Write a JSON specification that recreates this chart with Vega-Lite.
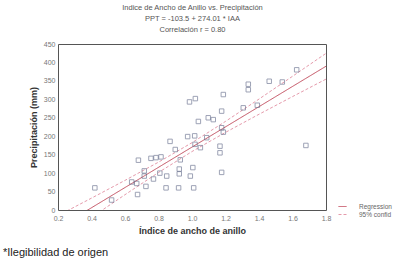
{
  "$schema": "https://vega.github.io/schema/vega-lite/v6.json",
  "width": 268,
  "height": 166,
  "autosize": {"type": "none"},
  "padding": {"left": 58, "top": 44, "right": 84, "bottom": 58},
  "background": "white",
  "config": {
    "view": {"stroke": "#555", "strokeWidth": 1},
    "font": "Liberation Sans",
    "axis": {"grid": false}
  },
  "title": {
    "text": "*Ilegibilidad de origen",
    "orient": "bottom",
    "anchor": "start",
    "frame": "group",
    "dx": -55,
    "offset": 12,
    "fontSize": 11,
    "fontWeight": "normal",
    "color": "#222",
    "font": "Liberation Sans"
  },
  "datasets": {
    "points": [
      {"iaa": 0.42, "ppt": 60}, {"iaa": 0.52, "ppt": 27}, {"iaa": 0.64, "ppt": 76},
      {"iaa": 0.67, "ppt": 72}, {"iaa": 0.675, "ppt": 42}, {"iaa": 0.68, "ppt": 135},
      {"iaa": 0.715, "ppt": 106}, {"iaa": 0.715, "ppt": 92}, {"iaa": 0.725, "ppt": 64},
      {"iaa": 0.77, "ppt": 84}, {"iaa": 0.755, "ppt": 140}, {"iaa": 0.785, "ppt": 142},
      {"iaa": 0.815, "ppt": 144}, {"iaa": 0.808, "ppt": 100}, {"iaa": 0.849, "ppt": 92},
      {"iaa": 0.845, "ppt": 60}, {"iaa": 0.869, "ppt": 186}, {"iaa": 0.9, "ppt": 164},
      {"iaa": 0.93, "ppt": 136}, {"iaa": 0.924, "ppt": 111}, {"iaa": 0.924, "ppt": 98},
      {"iaa": 0.92, "ppt": 60}, {"iaa": 0.99, "ppt": 92}, {"iaa": 1.005, "ppt": 115},
      {"iaa": 1.01, "ppt": 60}, {"iaa": 0.974, "ppt": 199}, {"iaa": 1.016, "ppt": 201},
      {"iaa": 0.985, "ppt": 293}, {"iaa": 1.02, "ppt": 302}, {"iaa": 1.038, "ppt": 240},
      {"iaa": 1.018, "ppt": 178}, {"iaa": 1.05, "ppt": 169}, {"iaa": 1.088, "ppt": 196},
      {"iaa": 1.097, "ppt": 250}, {"iaa": 1.127, "ppt": 245}, {"iaa": 1.177, "ppt": 268},
      {"iaa": 1.187, "ppt": 313}, {"iaa": 1.177, "ppt": 223}, {"iaa": 1.187, "ppt": 211},
      {"iaa": 1.167, "ppt": 173}, {"iaa": 1.167, "ppt": 155}, {"iaa": 1.177, "ppt": 102},
      {"iaa": 1.306, "ppt": 277}, {"iaa": 1.336, "ppt": 341}, {"iaa": 1.336, "ppt": 326},
      {"iaa": 1.39, "ppt": 284}, {"iaa": 1.461, "ppt": 349}, {"iaa": 1.539, "ppt": 347},
      {"iaa": 1.625, "ppt": 380}, {"iaa": 1.68, "ppt": 175}
    ],
    "lines": [
      {"iaa": 0.2, "ppt": -48.7, "series": "Regression", "part": "fit"},
      {"iaa": 1.8, "ppt": 389.7, "series": "Regression", "part": "fit"},
      {"iaa": 0.2, "ppt": -15.3, "series": "95% confid", "part": "upper"},
      {"iaa": 0.4, "ppt": 32.2, "series": "95% confid", "part": "upper"},
      {"iaa": 0.6, "ppt": 80.3, "series": "95% confid", "part": "upper"},
      {"iaa": 0.8, "ppt": 129.7, "series": "95% confid", "part": "upper"},
      {"iaa": 1.0, "ppt": 182.5, "series": "95% confid", "part": "upper"},
      {"iaa": 1.2, "ppt": 240.2, "series": "95% confid", "part": "upper"},
      {"iaa": 1.4, "ppt": 300.7, "series": "95% confid", "part": "upper"},
      {"iaa": 1.6, "ppt": 362.4, "series": "95% confid", "part": "upper"},
      {"iaa": 1.8, "ppt": 424.6, "series": "95% confid", "part": "upper"},
      {"iaa": 0.2, "ppt": -82.1, "series": "95% confid", "part": "lower"},
      {"iaa": 0.4, "ppt": -20.0, "series": "95% confid", "part": "lower"},
      {"iaa": 0.6, "ppt": 41.5, "series": "95% confid", "part": "lower"},
      {"iaa": 0.8, "ppt": 101.7, "series": "95% confid", "part": "lower"},
      {"iaa": 1.0, "ppt": 158.5, "series": "95% confid", "part": "lower"},
      {"iaa": 1.2, "ppt": 210.4, "series": "95% confid", "part": "lower"},
      {"iaa": 1.4, "ppt": 259.5, "series": "95% confid", "part": "lower"},
      {"iaa": 1.6, "ppt": 307.4, "series": "95% confid", "part": "lower"},
      {"iaa": 1.8, "ppt": 354.8, "series": "95% confid", "part": "lower"}
    ]
  },
  "layer": [
    {
      "data": {"name": "lines"},
      "mark": {"type": "line", "clip": true, "strokeWidth": 1},
      "encoding": {
        "x": {
          "field": "iaa", "type": "quantitative",
          "scale": {"domain": [0.2, 1.8], "nice": false, "zero": false},
          "axis": {
            "orient": "top",
            "title": ["Indice de Ancho de Anillo vs. Precipitación", "PPT = -103.5 + 274.01 * IAA", "Correlación  r = 0.80"],
            "labels": false, "ticks": false, "domain": false,
            "titleFontSize": 7.5, "titleFontWeight": "normal", "titleColor": "#555",
            "titleLineHeight": 11, "titleBaseline": "top", "titleY": -41,
            "titleFont": "Liberation Sans"
          }
        },
        "y": {
          "field": "ppt", "type": "quantitative",
          "scale": {"domain": [0, 450], "nice": false},
          "axis": {
            "title": "Precipitación (mm)",
            "tickCount": 10,
            "ticks": false, "domain": false, "labelPadding": 3,
            "labelFontSize": 7, "labelColor": "#777", "labelFont": "Liberation Sans",
            "titleFontSize": 9, "titleFontWeight": "bold", "titleColor": "#333",
            "titlePadding": 5, "titleFont": "Liberation Sans"
          }
        },
        "color": {
          "field": "series", "type": "nominal",
          "scale": {"domain": ["Regression", "95% confid"], "range": ["#c24d5e", "#e59aab"]},
          "legend": {
            "title": null, "orient": "none", "legendX": 280, "legendY": 158,
            "symbolType": "stroke", "symbolSize": 64, "symbolStrokeWidth": 1,
            "labelFontSize": 6.5, "labelColor": "#666", "labelFont": "Liberation Sans",
            "labelOffset": 12, "rowPadding": 0, "padding": 0
          }
        },
        "strokeDash": {
          "field": "series", "type": "nominal",
          "scale": {"domain": ["Regression", "95% confid"], "range": [[1, 0], [3, 2]]},
          "legend": {
            "title": null, "orient": "none", "legendX": 280, "legendY": 158,
            "symbolType": "stroke", "symbolSize": 64, "symbolStrokeWidth": 1,
            "labelFontSize": 6.5, "labelColor": "#666", "labelFont": "Liberation Sans",
            "labelOffset": 12, "rowPadding": 0, "padding": 0
          }
        },
        "detail": {"field": "part", "type": "nominal"}
      }
    },
    {
      "data": {"name": "points"},
      "mark": {"type": "point", "shape": "square", "filled": false, "size": 20, "strokeWidth": 0.9, "color": "#666e8c"},
      "encoding": {
        "x": {
          "field": "iaa", "type": "quantitative",
          "scale": {"domain": [0.2, 1.8], "nice": false, "zero": false},
          "axis": {
            "orient": "bottom", "title": "Índice de ancho de anillo",
            "values": [0.2, 0.4, 0.6, 0.8, 1.0, 1.2, 1.4, 1.6, 1.8], "format": ".1f",
            "ticks": false, "domain": false, "labelPadding": 4,
            "labelOverlap": false, "labelBound": false, "labelFlush": false,
            "labelFontSize": 7, "labelColor": "#777", "labelFont": "Liberation Sans",
            "titleFontSize": 9, "titleFontWeight": "bold", "titleColor": "#333",
            "titlePadding": 5, "titleFont": "Liberation Sans"
          }
        },
        "y": {
          "field": "ppt", "type": "quantitative",
          "scale": {"domain": [0, 450], "nice": false}
        }
      }
    }
  ],
  "resolve": {"axis": {"x": "independent"}}
}
